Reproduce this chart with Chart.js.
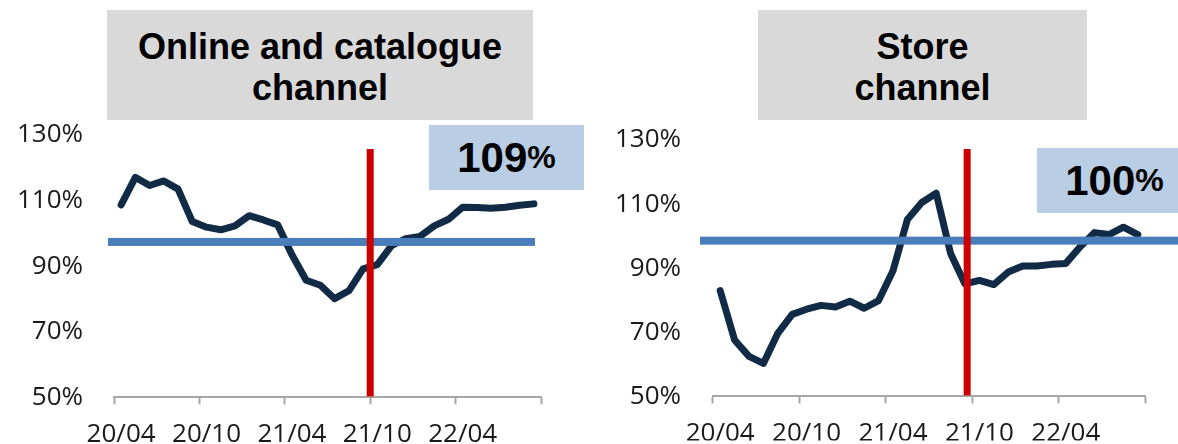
<!DOCTYPE html>
<html>
<head>
<meta charset="utf-8">
<script src="https://cdn.jsdelivr.net/npm/chart.js@4.4.1/dist/chart.umd.min.js"></script>
<style>
    body { margin: 0; background: #fff; }
    #page { position: relative; width: 1178px; height: 444px; overflow: hidden; }
    .panel { position: absolute; top: 0; }
    .title-box {
        position: absolute; top: 10px; height: 110px;
        background: #d9d9d9; color: #000;
        font: bold 36px "Liberation Sans", Arial, sans-serif;
        line-height: 41px; text-align: center;
        display: flex; align-items: center; justify-content: center;
        padding-top: 3px; box-sizing: border-box;
    }
    .value-box {
        position: absolute; height: 65px; background: #b9cde5;
        font: bold 42px "Liberation Sans", Arial, sans-serif; color: #000;
        display: flex; align-items: center; justify-content: center;
    }
    .value-box small { font-size: 32px; }
</style>
</head>
<body>
<div id="page">
    <canvas id="onlineChart" class="panel" width="590" height="444" style="left:0"></canvas>
    <canvas id="storeChart" class="panel" width="588" height="444" style="left:590px"></canvas>

    <div class="title-box" style="left:107px; width:426px;">Online and catalogue<br>channel</div>
    <div class="title-box" style="left:758px; width:329px;">Store<br>channel</div>

    <div class="value-box" style="left:429px; top:125px; width:155px;">109<small>%</small></div>
    <div class="value-box" style="left:1037px; top:148px; width:141px; padding-left:14px; box-sizing:border-box;">100<small>%</small></div>
</div>

<script>
// monthly categories 20/04 .. 22/09
const months = [
    '20/04', '20/05', '20/06', '20/07', '20/08', '20/09',
    '20/10', '20/11', '20/12', '21/01', '21/02', '21/03',
    '21/04', '21/05', '21/06', '21/07', '21/08', '21/09',
    '21/10', '21/11', '21/12', '22/01', '22/02', '22/03',
    '22/04', '22/05', '22/06', '22/07', '22/08', '22/09'
];

const onlineValues = [
    108.7, 117.1, 114.6, 116.0, 113.5, 103.6,
    101.9, 101.1, 102.3, 105.4, 104.1, 102.6,
    93.5, 85.7, 84.2, 80.1, 82.5, 89.2,
    90.5, 96.3, 98.4, 99.1, 102.3, 104.3,
    108.0, 107.9, 107.7, 108.0, 108.6, 109.0
];

const storeValues = [
    83.0, 67.6, 62.5, 60.3, 69.7, 75.6,
    77.2, 78.4, 77.9, 79.7, 77.5, 79.9,
    89.2, 105.2, 110.5, 113.4, 94.6, 85.1,
    86.2, 84.9, 88.8, 90.7, 90.7, 91.2,
    91.5, 96.7, 101.1, 100.5, 102.8, 100.5
];

const yTicks = [50, 70, 90, 110, 130];
const refLevels = [97.4, 98.6];        // blue horizontal line, per chart
const markerPositions = [17.5, 17.15]; // red vertical line, as category index

const labelFont = { family: '"Open Sans", "Noto Sans", sans-serif', size: 26 };
const axisGray = '#a6a6a6';

// draws the blue reference line and the red marker through the chart's scales
const markersPlugin = {
    id: 'markers',
    afterDatasetsDraw(chart, args, opts) {
        const { ctx, scales: { x, y } } = chart;
        const yRef = y.getPixelForValue(opts.ref);
        ctx.save();
        ctx.fillStyle = '#4a7ebb';
        ctx.fillRect(opts.blueFrom, yRef - 4, opts.blueTo - opts.blueFrom, 8);
        const xm = x.getPixelForValue(opts.marker);
        ctx.fillStyle = '#cc0000';
        ctx.fillRect(xm - 3.5, opts.redTop, 7, y.bottom - 1 - opts.redTop);
        ctx.restore();
    }
};

function makeChart(id, values, cfg) {
    const tickMark = ctx => (ctx.index === undefined || ctx.index % 6 === 0) ? axisGray : 'rgba(0,0,0,0)';
    return new Chart(document.getElementById(id), {
        type: 'line',
        data: {
            labels: months,
            datasets: [{
                data: values,
                borderColor: '#112a46',
                borderWidth: 7,
                pointRadius: 0,
                tension: 0,
                borderJoinStyle: 'round',
                borderCapStyle: 'round'
            }]
        },
        options: {
            responsive: false,
            animation: false,
            events: [],
            layout: { padding: { left: 0, right: cfg.padRight, top: cfg.top, bottom: 0 } },
            plugins: {
                legend: { display: false },
                tooltip: { enabled: false },
                markers: cfg.markers
            },
            scales: {
                x: {
                    offset: true,
                    grid: {
                        offset: true,
                        drawOnChartArea: false,
                        drawTicks: true,
                        tickLength: 7,
                        tickWidth: 2,
                        color: tickMark,
                        tickColor: tickMark
                    },
                    border: { display: true, color: axisGray, width: 2 },
                    ticks: {
                        autoSkip: false,
                        maxRotation: 0,
                        minRotation: 0,
                        padding: cfg.xPad,
                        color: '#1a1a1a',
                        font: labelFont,
                        callback: (v, i) => i % 6 === 0 ? months[i] : ''
                    },
                    afterFit: s => { s.height = cfg.xHeight; }
                },
                y: {
                    min: yTicks[0],
                    max: yTicks[yTicks.length - 1],
                    grid: { display: false, drawTicks: false },
                    border: { display: false },
                    afterBuildTicks: s => { s.ticks = yTicks.map(v => ({ value: v })); },
                    ticks: {
                        padding: cfg.yPad,
                        color: '#1a1a1a',
                        font: labelFont,
                        callback: v => v + '%'
                    },
                    afterFit: s => { s.width = cfg.yWidth; }
                }
            }
        },
        plugins: [markersPlugin]
    });
}

function drawAll() {
    makeChart('onlineChart', onlineValues, {
        padRight: 49, top: 135, xHeight: 46, xPad: 15, yWidth: 114, yPad: 31,
        markers: { ref: refLevels[0], marker: markerPositions[0], blueFrom: 108, blueTo: 535, redTop: 149 }
    });

    makeChart('storeChart', storeValues, {
        padRight: 33, top: 140, xHeight: 44, xPad: 15, yWidth: 123, yPad: 32,
        markers: { ref: refLevels[1], marker: markerPositions[1], blueFrom: 110, blueTo: 588, redTop: 149 }
    });
}

document.fonts.load('26px "Open Sans"').then(drawAll, drawAll);
</script>
</body>
</html>
